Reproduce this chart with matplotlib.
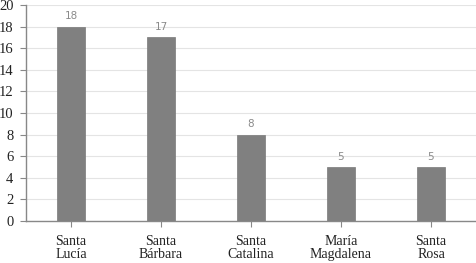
import matplotlib.pyplot as plt
import numpy as np

categories = ['Santa\nLucía', 'Santa\nBárbara', 'Santa\nCatalina', 'María\nMagdalena', 'Santa\nRosa']
values = [18, 17, 8, 5, 5]
y_ticks = [0, 2, 4, 6, 8, 10, 12, 14, 16, 18, 20]

fig = plt.figure(figsize=(4.76, 2.63), dpi=100)
ax = fig.add_axes([26 / 476, 1 - 221 / 263, 1 - 26 / 476, 216 / 263])

x = np.arange(len(categories))
bars = ax.bar(x, values, width=0.31, color='#808080', edgecolor='#7a7a7a', linewidth=0.5, zorder=3)

# value labels above bars
for xi, v in zip(x, values):
    ax.text(xi, v + 0.5, str(v), ha='center', va='bottom', fontsize=7.5,
            color='#8a8a8a', family='DejaVu Sans')

ax.set_xlim(-0.5, 4.5)
ax.set_ylim(0, 20)
ax.set_yticks(y_ticks)
ax.set_yticklabels([str(t) for t in y_ticks], family='Liberation Serif', fontsize=10.5, color='#222222')
ax.set_xticks(x)
ax.set_xticklabels(categories, family='Liberation Serif', fontsize=10, color='#222222', linespacing=1.0)

ax.yaxis.grid(True, color='#e4e4e4', linewidth=0.8, zorder=0)
for s in ['top', 'right']:
    ax.spines[s].set_visible(False)
ax.spines['left'].set_color('#888888')
ax.spines['bottom'].set_color('#888888')
ax.spines['left'].set_linewidth(1.0)
ax.spines['bottom'].set_linewidth(1.0)
ax.tick_params(axis='y', length=4, color='#888888', pad=5)
ax.tick_params(axis='x', length=4, color='#888888', pad=6)

fig.savefig('out.png', dpi=100)
